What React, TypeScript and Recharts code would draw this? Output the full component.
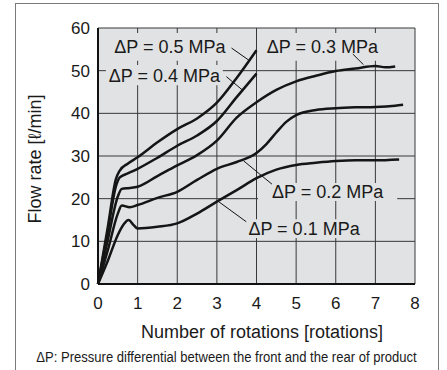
import {
  LineChart,
  Line,
  XAxis,
  YAxis,
  CartesianGrid,
  ReferenceArea,
  ReferenceLine,
  Label,
  Customized,
} from "recharts";

// rotations vs flow rate, one pair of arrays per pressure differential
const rot05 = [0, 0.25, 0.45, 0.55, 0.75, 1, 1.5, 2, 2.5, 3, 3.5, 4];
const flow05 = [0, 13.5, 24.5, 26.6, 28.2, 29.7, 33.2, 36.3, 38.8, 42.5, 48.3, 54.8];

const rot04 = [0, 0.25, 0.45, 0.55, 0.75, 1, 1.5, 2, 2.5, 3, 3.5, 4];
const flow04 = [0, 12.5, 22.8, 25, 25.9, 27, 29.6, 32.4, 34.8, 38.2, 43.8, 49.3];

const rot03 = [0, 0.25, 0.5, 0.6, 0.8, 1, 1.5, 2, 2.5, 3, 3.5, 4, 4.5, 5, 5.5, 6, 6.5, 7, 7.25, 7.5];
const flow03 = [0, 10.5, 20.5, 22.3, 22.5, 22.8, 25.3, 27.8, 30.2, 33.6, 39, 42.6, 45.5, 47.5, 48.8, 49.9, 50.5, 51.1, 50.8, 51];

const rot02 = [0, 0.25, 0.5, 0.6, 0.8, 1, 1.5, 2, 2.5, 3, 3.5, 4, 4.25, 4.5, 4.75, 5, 5.5, 6, 6.5, 7, 7.5, 7.7];
const flow02 = [0, 8, 16.5, 18.4, 18, 18.5, 20.2, 21.6, 24.4, 27, 28.6, 30.7, 32.8, 35.5, 38, 39.6, 40.8, 41.2, 41.4, 41.5, 41.8, 42];

const rot01 = [0, 0.25, 0.5, 0.65, 0.77, 0.9, 1, 1.5, 2, 2.5, 3, 3.5, 4, 4.5, 5, 5.5, 6, 6.5, 7, 7.6];
const flow01 = [0, 5.5, 11.5, 14, 15, 13.8, 13, 13.4, 14.2, 16.5, 19.3, 22, 24.8, 26.8, 27.9, 28.4, 28.8, 29, 29, 29.2];

const xTicks = [0, 1, 2, 3, 4, 5, 6, 7, 8];
const yTicks = [0, 10, 20, 30, 40, 50, 60];

const toPoints = (rot: number[], flow: number[]) =>
  rot.map((r, i) => ({ rot: r, flow: flow[i] }));

const series = [
  { key: "p05", points: toPoints(rot05, flow05) },
  { key: "p04", points: toPoints(rot04, flow04) },
  { key: "p03", points: toPoints(rot03, flow03) },
  { key: "p02", points: toPoints(rot02, flow02) },
  { key: "p01", points: toPoints(rot01, flow01) },
];

// label boxes (hide grid behind text) and leader lines, in data units
const annotations = [
  { text: "ΔP = 0.5 MPa", box: [0.25, 3.38, 52.3, 58.8], lead: [3.37, 55.3, 3.83, 52.3] },
  { text: "ΔP = 0.4 MPa", box: [0.2, 3.15, 46.6, 51.3], lead: [3.24, 48.6, 3.64, 45.5] },
  { text: "ΔP = 0.3 MPa", box: [4.11, 7.22, 52.3, 58.8], lead: [6.43, 53.9, 6.7, 51.4] },
  { text: "ΔP = 0.2 MPa", box: [4.04, 7.55, 19.45, 23.67], lead: [3.67, 28.9, 4.39, 23.4] },
  { text: "ΔP = 0.1 MPa", box: [3.66, 6.74, 10.8, 15.2], lead: [3.0, 19.6, 3.74, 14.6] },
];

const FONT = "'Liberation Sans', Arial, Helvetica, sans-serif";
const BG = "#e1e2e3";

const Titles = () => (
  <g fontFamily={FONT} fill="#1a1a1a">
    <text
      x={35}
      y={159}
      fontSize={18}
      textAnchor="middle"
      dominantBaseline="central"
      transform="rotate(-90 35 159)"
    >
      Flow rate [ℓ/min]
    </text>
    <text x={262} y={332} fontSize={18} textAnchor="middle" dominantBaseline="central">
      Number of rotations [rotations]
    </text>
    {/* condensed footnote: horizontal squeeze instead of a narrow face */}
    <g transform="translate(226.5 357) scale(0.87 1)">
      <text x={0} y={0} fontSize={15} textAnchor="middle" dominantBaseline="central">
        ΔP: Pressure differential between the front and the rear of product
      </text>
    </g>
  </g>
);

export default function App() {
  return (
    <div style={{ position: "absolute", left: 0, top: 0, width: 447, height: 370, background: "#fff", overflow: "hidden" }}>
      <div
        style={{
          position: "absolute",
          left: 15,
          top: 3,
          width: 424,
          height: 380,
          border: "1.5px solid #7a7a7a",
          boxSizing: "border-box",
        }}
      />
      <div style={{ position: "absolute", left: 0, top: 0 }}>
        <LineChart
          width={447}
          height={370}
          margin={{ top: 28, right: 32, bottom: 0, left: 0 }}
          style={{ fontFamily: FONT }}
        >
          <CartesianGrid fill={BG} fillOpacity={1} stroke="#383838" strokeWidth={1} />
          <XAxis
            type="number"
            dataKey="rot"
            domain={[0, 8]}
            ticks={xTicks}
            height={86}
            tickSize={0}
            tickMargin={13}
            axisLine={{ stroke: "#111", strokeWidth: 2 }}
            tickLine={false}
            tick={{ fontSize: 17, fill: "#1a1a1a" }}
            allowDuplicatedCategory={false}
          />
          <YAxis
            type="number"
            domain={[0, 60]}
            ticks={yTicks}
            width={98}
            tickSize={0}
            tickMargin={8}
            axisLine={{ stroke: "#111", strokeWidth: 2 }}
            tickLine={false}
            tick={{ fontSize: 17, fill: "#1a1a1a" }}
          />
          {annotations.map((a) => (
            <ReferenceArea
              key={a.text}
              x1={a.box[0]}
              x2={a.box[1]}
              y1={a.box[2]}
              y2={a.box[3]}
              fill={BG}
              fillOpacity={1}
              stroke="none"
              ifOverflow="visible"
            >
              <Label value={a.text} position="center" fontSize={18} fill="#1a1a1a" fontFamily={FONT} />
            </ReferenceArea>
          ))}
          {annotations.map((a) => (
            <ReferenceLine
              key={`lead-${a.text}`}
              segment={[
                { x: a.lead[0], y: a.lead[1] },
                { x: a.lead[2], y: a.lead[3] },
              ]}
              stroke="#111"
              strokeWidth={1}
              ifOverflow="visible"
            />
          ))}
          {series.map((s) => (
            <Line
              key={s.key}
              data={s.points}
              dataKey="flow"
              type="monotone"
              stroke="#151515"
              strokeWidth={2.5}
              dot={false}
              activeDot={false}
              isAnimationActive={false}
            />
          ))}
          <Customized component={Titles} />
        </LineChart>
      </div>
    </div>
  );
}
